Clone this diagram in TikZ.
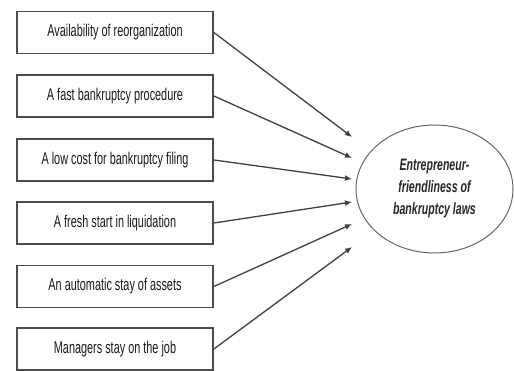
\documentclass[tikz,border=0pt]{standalone}
\usepackage{fontspec}
\newfontfamily\narrowfont[FakeStretch=0.64]{Liberation Sans}
\usetikzlibrary{shapes.geometric,arrows.meta}
\begin{document}
\begin{tikzpicture}[x=1pt,y=-1pt,
  factor/.style={draw=black!70, line width=1.8pt, minimum width=196pt, minimum height=42pt,
    inner sep=0pt, font=\narrowfont\fontsize{17}{19}\selectfont, text=black!90},
  outcome/.style={draw=black!60, line width=1pt, ellipse, minimum width=157pt, minimum height=128pt,
    inner sep=0pt, align=center, font=\narrowfont\bfseries\itshape\fontsize{16.5}{22}\selectfont, text=black!85},
  link/.style={draw=black!75, line width=1.3pt, -{Latex[length=7pt,width=6pt]}}]
\useasboundingbox (0,0) rectangle (514,371);
\node[factor] (f1) at (115,32.5) {Availability of reorganization};
\node[factor] (f2) at (115,96) {A fast bankruptcy procedure};
\node[factor] (f3) at (115,160) {A low cost for bankruptcy filing};
\node[factor] (f4) at (115,223) {A fresh start in liquidation};
\node[factor] (f5) at (115,286.5) {An automatic stay of assets};
\node[factor] (f6) at (115,349) {Managers stay on the job};
\node[outcome] (e) at (434.5,189) {Entrepreneur-\\friendliness of\\bankruptcy laws};
\coordinate (t1) at (352,137);
\coordinate (t2) at (352,158);
\coordinate (t3) at (352,179);
\coordinate (t4) at (352,202);
\coordinate (t5) at (352,224);
\coordinate (t6) at (352,247);
\draw[link] (f1.east) -- (t1);
\draw[link] (f2.east) -- (t2);
\draw[link] (f3.east) -- (t3);
\draw[link] (f4.east) -- (t4);
\draw[link] (f5.east) -- (t5);
\draw[link] (f6.east) -- (t6);
\end{tikzpicture}
\end{document}
